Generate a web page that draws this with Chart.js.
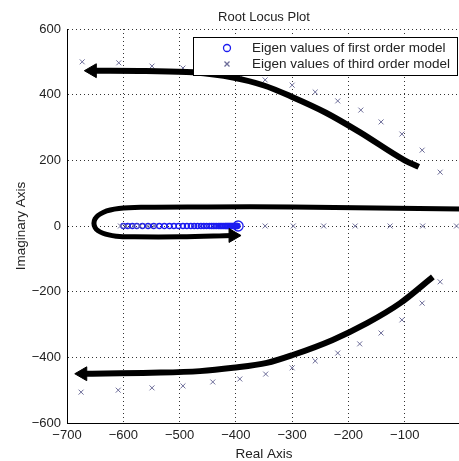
<!DOCTYPE html>
<html>
<head>
<meta charset="utf-8">
<title>Root Locus Plot</title>
<script src="https://cdn.jsdelivr.net/npm/chart.js@4.4.1/dist/chart.umd.min.js"></script>
<style>
  html, body { margin: 0; padding: 0; background: #fff; overflow: hidden; }
  #wrap { position: relative; width: 470px; height: 461px; }
</style>
</head>
<body>
<div id="wrap"><canvas id="root-locus"></canvas></div>
<script>
// ---- data ----
var chartTitle = "Root Locus Plot";
var xTitle = "Real Axis";
var yTitle = "Imaginary Axis";

// first order model: eigen values on the real axis (dense near -396)
var firstOrderRe = [-600,-592,-584,-576,-566,-556,-546,-536,-527,-518,-510,-502,-494,-487,-480,-474,-468,-462,-457,-452,-447,-443,-439,-435,-431,-428,-425,-422,-419,-417,-415,-413,-411,-409,-407,-405,-403,-401,-400,-399,-398,-397,-396];
var firstOrderIm = [0,0,0,0,0,0,0,0,0,0,0,0,0,0,0,0,0,0,0,0,0,0,0,0,0,0,0,0,0,0,0,0,0,0,0,0,0,0,0,0,0,0,0];

// third order model: upper branch, real axis, lower branch
var thirdUpperRe = [-673,-608,-549,-494,-441,-393,-348,-300,-259,-219,-178,-142,-105,-69,-37];
var thirdUpperIm = [500,497,487,481,470,461,445,429,408,381,353,317,280,231,164];
var thirdRealRe = [-605,-595,-582,-570,-557,-545,-348,-298,-244,-188,-126,-68,-8];
var thirdRealIm = [0,0,0,0,0,0,0,0,0,0,0,0,0];
var thirdLowerRe = [-675,-609,-549,-494,-441,-393,-347,-300,-259,-219,-180,-142,-105,-69,-37];
var thirdLowerIm = [-506,-500,-493,-487,-475,-466,-451,-432,-411,-387,-359,-326,-286,-235,-170];

// hand drawn arrows over the plot (arrow head at the first point)
var upperArrowRe = [-655,-560,-476,-405,-350,-300,-240,-180,-100,-75];
var upperArrowIm = [473,472,468,452,428,393,345,286,200,180];
var lowerArrowRe = [-672,-550,-464,-405,-345,-299,-228,-167,-108,-50];
var lowerArrowIm = [-450,-447,-442,-432,-417,-393,-347,-296,-235,-155];
var loopArrowRe = [0,-150,-300,-450,-560,-608,-635,-650,-650,-636,-612,-580,-500,-405];
var loopArrowIm = [52,55,58,58,57,53,42,22,-5,-22,-31,-33,-33,-29];

var xMin = -700, xMax = 0, xStep = 100;
var yMin = -600, yMax = 600, yStep = 200;

function toPoints(re, im) {
  return re.map(function (r, i) { return { x: r, y: im[i] }; });
}

function arrowData(re, im, label, headIndex, angle, smooth) {
  var ds = {
    label: label,
    data: toPoints(re, im),
    showLine: true,
    borderColor: "#000000",
    backgroundColor: "#000000",
    borderWidth: 6,
    order: 0,
    pointStyle: "triangle",
    pointRotation: angle,
    pointRadius: function (c) { return c.dataIndex === headIndex ? 8 : 0; },
    pointBorderWidth: 1
  };
  if (smooth) {
    ds.cubicInterpolationMode = "monotone";
  } else {
    ds.tension = 0.4;
  }
  return ds;
}

var blue = "#1c1cf0";
var grayBlue = "#6c6c98";

var thirdPoints = toPoints(thirdUpperRe, thirdUpperIm)
  .concat(toPoints(thirdRealRe, thirdRealIm))
  .concat(toPoints(thirdLowerRe, thirdLowerIm));

var datasets = [
  {
    label: "Eigen values of first order model",
    data: toPoints(firstOrderRe, firstOrderIm),
    inLegend: true,
    pointStyle: "circle",
    pointRadius: function (c) { return c.dataIndex === firstOrderRe.length - 1 ? 5 : 2.5; },
    pointBorderWidth: 1.3,
    borderColor: blue,
    backgroundColor: "rgba(255,255,255,0)",
    showLine: false,
    order: 2
  },
  {
    label: "Eigen values of third order model",
    data: thirdPoints,
    inLegend: true,
    pointStyle: "crossRot",
    pointRadius: 3.5,
    pointBorderWidth: 1,
    borderColor: grayBlue,
    backgroundColor: grayBlue,
    showLine: false,
    order: 1
  },
  arrowData(upperArrowRe, upperArrowIm, "upper", 0, 270, true),
  arrowData(lowerArrowRe, lowerArrowIm, "lower", 0, 270, true),
  arrowData(loopArrowRe, loopArrowIm, "loop", loopArrowRe.length - 1, 90, false)
];
datasets[4].borderWidth = 5;

// title above the axes and the boxed legend inside them
var frameLabels = {
  id: "frameLabels",
  afterDraw: function (chart) {
    var ctx = chart.ctx, area = chart.chartArea;
    ctx.save();
    ctx.fillStyle = "#222";
    ctx.font = '13px "Liberation Sans", Arial, sans-serif';
    ctx.textAlign = "center";
    ctx.textBaseline = "middle";
    ctx.fillText(chartTitle, (area.left + area.right) / 2, 17);

    var items = chart.data.datasets.filter(function (d) { return d.inLegend; });
    var right = area.right - 4, top = area.top + 8;
    var w = 264, h = 38;
    ctx.fillStyle = "#ffffff";
    ctx.fillRect(right - w, top, w, h);
    ctx.strokeStyle = "#000000";
    ctx.lineWidth = 1;
    ctx.strokeRect(Math.round(right - w) + 0.5, Math.round(top) + 0.5, w, h);

    ctx.font = '13.5px "Liberation Sans", Arial, sans-serif';
    ctx.textAlign = "left";
    items.forEach(function (d, i) {
      var y = top + 11 + i * 16;
      var mx = right - w + 34;
      ctx.strokeStyle = d.borderColor;
      ctx.lineWidth = 1.3;
      ctx.beginPath();
      if (d.pointStyle === "circle") {
        ctx.arc(mx, y, 3.5, 0, Math.PI * 2);
      } else {
        ctx.moveTo(mx - 2.5, y - 2.5); ctx.lineTo(mx + 2.5, y + 2.5);
        ctx.moveTo(mx - 2.5, y + 2.5); ctx.lineTo(mx + 2.5, y - 2.5);
      }
      ctx.stroke();
      ctx.fillStyle = "#222";
      ctx.fillText(d.label, right - w + 59, y);
    });
    ctx.restore();
  }
};

function minusLabel(v) {
  return String(v).replace("-", "\u2212");
}

new Chart(document.getElementById("root-locus").getContext("2d"), {
  type: "scatter",
  data: { datasets: datasets },
  plugins: [frameLabels],
  options: {
    responsive: true,
    maintainAspectRatio: false,
    animation: false,
    events: [],
    layout: { padding: { top: 29, right: 9, left: 0, bottom: 0 } },
    plugins: {
      legend: { display: false },
      title: { display: false },
      tooltip: { enabled: false }
    },
    scales: {
      x: {
        type: "linear",
        min: xMin,
        max: xMax,
        afterFit: function (scale) { scale.height = 38; },
        ticks: {
          stepSize: xStep,
          autoSkip: false,
          maxRotation: 0,
          padding: 5,
          color: "#222",
          font: { family: '"Liberation Sans", Arial, sans-serif', size: 13 },
          callback: function (v) { return v === 0 ? "" : minusLabel(v); }
        },
        grid: { color: "#333333", lineWidth: 1, drawTicks: false },
        border: { display: true, color: "#000000", width: 1, dash: [1, 3] },
        title: {
          display: true,
          text: xTitle,
          color: "#222",
          padding: { top: 0, bottom: 0 },
          font: { family: '"Liberation Sans", Arial, sans-serif', size: 13.5, lineHeight: 1 }
        }
      },
      y: {
        type: "linear",
        min: yMin,
        max: yMax,
        afterFit: function (scale) { scale.width = 67; },
        ticks: {
          stepSize: yStep,
          padding: 6,
          color: "#222",
          font: { family: '"Liberation Sans", Arial, sans-serif', size: 13 },
          callback: function (v) { return minusLabel(v); }
        },
        grid: { color: "#333333", lineWidth: 1, drawTicks: false },
        border: { display: true, color: "#000000", width: 1, dash: [1, 3] },
        title: {
          display: true,
          text: yTitle,
          color: "#222",
          padding: { top: 15, bottom: 0 },
          font: { family: '"Liberation Sans", Arial, sans-serif', size: 13.5, lineHeight: 1 }
        }
      }
    }
  }
});
</script>
</body>
</html>
